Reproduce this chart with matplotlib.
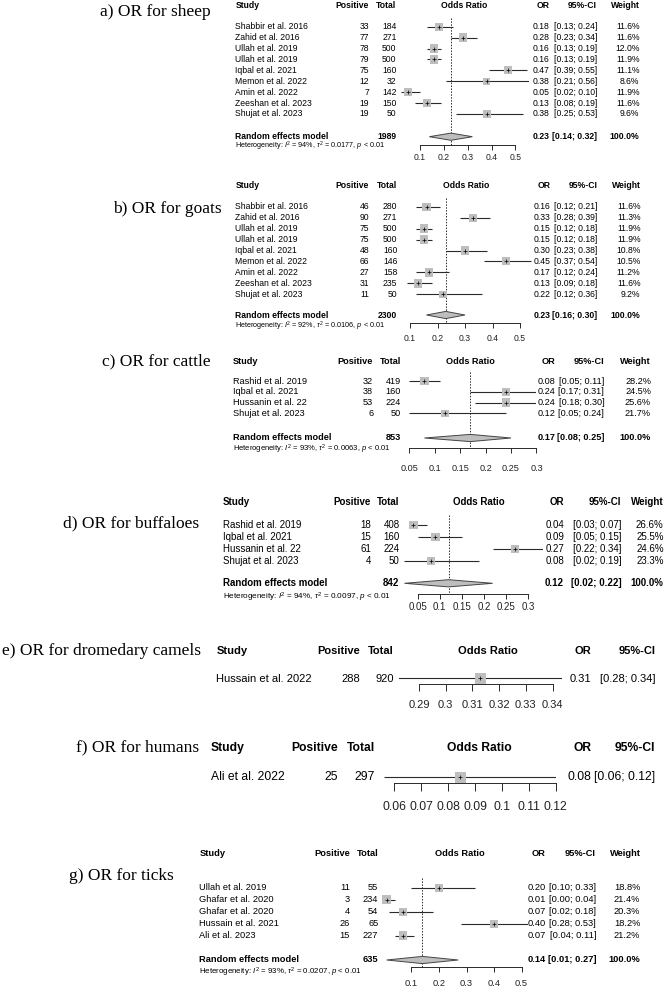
import matplotlib
matplotlib.use("Agg")
import matplotlib.pyplot as plt
from matplotlib.patches import Polygon

plt.rcParams['font.family'] = ['Liberation Sans', 'DejaVu Sans']
plt.rcParams['mathtext.fontset'] = 'custom'
plt.rcParams['mathtext.rm'] = 'Liberation Sans'
plt.rcParams['mathtext.it'] = 'Liberation Sans:italic'
plt.rcParams['mathtext.bf'] = 'Liberation Sans:bold'

# ---------------- data ----------------
# a) sheep
sheep_studies = ["Shabbir et al. 2016", "Zahid et al. 2016", "Ullah et al. 2019", "Ullah et al. 2019",
                 "Iqbal et al. 2021", "Memon et al. 2022", "Amin et al. 2022", "Zeeshan et al. 2023",
                 "Shujat et al. 2023"]
sheep_positive = [33, 77, 78, 79, 75, 12, 7, 19, 19]
sheep_total = [184, 271, 500, 500, 160, 32, 142, 150, 50]
sheep_or = [0.18, 0.28, 0.16, 0.16, 0.47, 0.38, 0.05, 0.13, 0.38]
sheep_lower = [0.13, 0.23, 0.13, 0.13, 0.39, 0.21, 0.02, 0.08, 0.25]
sheep_upper = [0.24, 0.34, 0.19, 0.19, 0.55, 0.56, 0.10, 0.19, 0.53]
sheep_weight = [11.6, 11.6, 12.0, 11.9, 11.1, 8.6, 11.9, 11.6, 9.6]
sheep_pooled = [0.23, 0.14, 0.32]
sheep_het = ["94%", "0.0177"]
sheep_ticks = [0.1, 0.2, 0.3, 0.4, 0.5]
sheep_ticklabels = ["0.1", "0.2", "0.3", "0.4", "0.5"]

# b) goats
goat_studies = ["Shabbir et al. 2016", "Zahid et al. 2016", "Ullah et al. 2019", "Ullah et al. 2019",
                "Iqbal et al. 2021", "Memon et al. 2022", "Amin et al. 2022", "Zeeshan et al. 2023",
                "Shujat et al. 2023"]
goat_positive = [46, 90, 75, 75, 48, 66, 27, 31, 11]
goat_total = [280, 271, 500, 500, 160, 146, 158, 235, 50]
goat_or = [0.16, 0.33, 0.15, 0.15, 0.30, 0.45, 0.17, 0.13, 0.22]
goat_lower = [0.12, 0.28, 0.12, 0.12, 0.23, 0.37, 0.12, 0.09, 0.12]
goat_upper = [0.21, 0.39, 0.18, 0.18, 0.38, 0.54, 0.24, 0.18, 0.36]
goat_weight = [11.6, 11.3, 11.9, 11.9, 10.8, 10.5, 11.2, 11.6, 9.2]
goat_pooled = [0.23, 0.16, 0.30]
goat_het = ["92%", "0.0106"]
goat_ticks = [0.1, 0.2, 0.3, 0.4, 0.5]
goat_ticklabels = ["0.1", "0.2", "0.3", "0.4", "0.5"]

# c) cattle
cattle_studies = ["Rashid et al. 2019", "Iqbal et al. 2021", "Hussanin et al. 22", "Shujat et al. 2023"]
cattle_positive = [32, 38, 53, 6]
cattle_total = [419, 160, 224, 50]
cattle_or = [0.08, 0.24, 0.24, 0.12]
cattle_lower = [0.05, 0.17, 0.18, 0.05]
cattle_upper = [0.11, 0.31, 0.30, 0.24]
cattle_weight = [28.2, 24.5, 25.6, 21.7]
cattle_pooled = [0.17, 0.08, 0.25]
cattle_het = ["93%", "0.0063"]
cattle_ticks = [0.05, 0.1, 0.15, 0.2, 0.25, 0.3]
cattle_ticklabels = ["0.05", "0.1", "0.15", "0.2", "0.25", "0.3"]

# d) buffaloes
buff_studies = ["Rashid et al. 2019", "Iqbal et al. 2021", "Hussanin et al. 22", "Shujat et al. 2023"]
buff_positive = [18, 15, 61, 4]
buff_total = [408, 160, 224, 50]
buff_or = [0.04, 0.09, 0.27, 0.08]
buff_lower = [0.03, 0.05, 0.22, 0.02]
buff_upper = [0.07, 0.15, 0.34, 0.19]
buff_weight = [26.6, 25.5, 24.6, 23.3]
buff_pooled = [0.12, 0.02, 0.22]
buff_het = ["94%", "0.0097"]
buff_ticks = [0.05, 0.1, 0.15, 0.2, 0.25, 0.3]
buff_ticklabels = ["0.05", "0.1", "0.15", "0.2", "0.25", "0.3"]

# e) dromedary camels
camel_studies = ["Hussain et al. 2022"]
camel_positive = [288]
camel_total = [920]
camel_or = [0.313]
camel_lower = [0.282]
camel_upper = [0.344]
camel_ticks = [0.29, 0.30, 0.31, 0.32, 0.33, 0.34]
camel_ticklabels = ["0.29", "0.3", "0.31", "0.32", "0.33", "0.34"]

# f) humans
human_studies = ["Ali et al. 2022"]
human_positive = [25]
human_total = [297]
human_or = [0.0845]
human_lower = [0.056]
human_upper = [0.121]
human_ticks = [0.06, 0.07, 0.08, 0.09, 0.10, 0.11, 0.12]
human_ticklabels = ["0.06", "0.07", "0.08", "0.09", "0.1", "0.11", "0.12"]

# g) ticks
tick_studies = ["Ullah et al. 2019", "Ghafar et al. 2020", "Ghafar et al. 2020", "Hussain et al. 2021",
                "Ali et al. 2023"]
tick_positive = [11, 3, 4, 26, 15]
tick_total = [55, 234, 54, 65, 227]
tick_or = [0.20, 0.01, 0.07, 0.40, 0.07]
tick_lower = [0.10, 0.00, 0.02, 0.28, 0.04]
tick_upper = [0.33, 0.04, 0.18, 0.53, 0.11]
tick_weight = [18.8, 21.4, 20.3, 18.2, 21.2]
tick_pooled = [0.14, 0.01, 0.27]
tick_het = ["93%", "0.0207"]
tick_ticks = [0.1, 0.2, 0.3, 0.4, 0.5]
tick_ticklabels = ["0.1", "0.2", "0.3", "0.4", "0.5"]

# ---------------- figure ----------------
W, H = 665, 990
fig = plt.figure(figsize=(6.65, 9.9), dpi=100)
bg = fig.add_axes([0, 0, 1, 1])
bg.set_xlim(0, W)
bg.set_ylim(H, 0)
bg.axis('off')

SQ = '#bebebe'
LN = '#2a2a2a'


def forest(title, L, studies, positive, total, est, lower, upper,
           weight, pooled, het, ticks, ticklabels):
    fs = L['fs']
    # title
    bg.text(L['title_x'], L['title_y'], title, ha='right', va='center',
            fontsize=12.5, family='Liberation Serif')
    # header
    hy = L['header_y']
    bg.text(L['study_x'], hy, "Study", fontsize=fs, weight='bold', va='center')
    bg.text(L['pos_r'], hy, "Positive", fontsize=fs, weight='bold', va='center', ha='right')
    bg.text(L['tot_r'], hy, "Total", fontsize=fs, weight='bold', va='center', ha='right')
    bg.text(L['or_c'], hy, "Odds Ratio", fontsize=fs, weight='bold', va='center', ha='center')
    bg.text(L['or_r'], hy, "OR", fontsize=fs, weight='bold', va='center', ha='right')
    bg.text(L['ci_r'], hy, "95%-CI", fontsize=fs, weight='bold', va='center', ha='right')
    if weight is not None:
        bg.text(L['w_r'], hy, "Weight", fontsize=fs, weight='bold', va='center', ha='right')

    rows = [L['first_y'] + i * L['dy'] for i in range(len(studies))]
    for i, y in enumerate(rows):
        bg.text(L['study_x'], y, studies[i], fontsize=fs, va='center')
        bg.text(L['pos_r'], y, str(positive[i]), fontsize=fs, va='center', ha='right')
        bg.text(L['tot_r'], y, str(total[i]), fontsize=fs, va='center', ha='right')
        bg.text(L['or_r'], y, f"{est[i]:.2f}", fontsize=fs, va='center', ha='right')
        bg.text(L['ci_r'], y, f"[{lower[i]:.2f}; {upper[i]:.2f}]", fontsize=fs, va='center', ha='right')
        if weight is not None:
            bg.text(L['w_r'], y, f"{weight[i]:.1f}%", fontsize=fs, va='center', ha='right')

    # axes for the graphical part, x in OR units, y in pixels
    def xpix(v):
        return L['px0'] + (v - L['v0']) * L['scale']
    lo, hi = L['xlim']
    top = L['first_y'] - 1.2 * L['dy']
    bottom = L['axis_y']
    left, right = xpix(lo), xpix(hi)
    ax = fig.add_axes([left / W, 1 - bottom / H, (right - left) / W, (bottom - top) / H])
    ax.set_xlim(lo, hi)
    ax.set_ylim(bottom, top)
    ax.patch.set_visible(False)
    for s in ['top', 'left', 'right']:
        ax.spines[s].set_visible(False)
    ax.spines['bottom'].set_bounds(ticks[0], ticks[-1])
    ax.spines['bottom'].set_linewidth(0.7)
    ax.spines['bottom'].set_color(LN)
    ax.set_yticks([])
    ax.set_xticks(ticks)
    ax.set_xticklabels(ticklabels, fontsize=fs)
    em = fs * 100 / 72
    pad = (L['label_y'] - bottom - L['tick_len'] - 0.55 * em) * 0.72
    ax.tick_params(axis='x', direction='out', length=L['tick_len'] * 0.72, width=0.7,
                   pad=pad, color=LN, labelcolor='#222222')

    ax.hlines(rows, lower, upper, color=LN, lw=0.8, zorder=2)
    if weight is not None:
        wmax = max(weight)
        sizes = [(L['sq'] * (w / wmax) ** 0.5 * 0.72) ** 2 for w in weight]
    else:
        sizes = [(L['sq'] * 0.72) ** 2 for _ in studies]
    ax.scatter(est, rows, marker='s', s=sizes, color=SQ, linewidths=0, zorder=3)
    ax.scatter(est, rows, marker='+', s=6, color='black', linewidths=0.5, zorder=4)

    if pooled is not None:
        sy = L['sum_y']
        pe, plo, phi = pooled
        h = L['dia_h']
        ax.add_patch(Polygon([(plo, sy), (pe, sy - h), (phi, sy), (pe, sy + h)], closed=True,
                             facecolor=SQ, edgecolor='#444444', lw=0.7, zorder=3))
        ax.vlines(pe, top + 0.4 * L['dy'], bottom, color=LN, lw=0.7, linestyles=(0, (1.5, 1.5)),
                  zorder=1)
        bg.text(L['study_x'], sy, "Random effects model", fontsize=fs, weight='bold', va='center')
        bg.text(L['tot_r'], sy, str(sum(total)), fontsize=fs, weight='bold', va='center', ha='right')
        bg.text(L['or_r'], sy, f"{pe:.2f}", fontsize=fs, weight='bold', va='center', ha='right')
        bg.text(L['ci_r'], sy, f"[{plo:.2f}; {phi:.2f}]", fontsize=fs, weight='bold',
                va='center', ha='right')
        bg.text(L['w_r'], sy, "100.0%", fontsize=fs, weight='bold', va='center', ha='right')
        bg.text(L['study_x'], L['het_y'],
                r"Heterogeneity: $I^2$ = " + het[0] + r", $\tau^2$ = " + het[1] + r", $p$ < 0.01",
                fontsize=fs * 0.84, va='center')


base = dict(tick_len=5, sq=8.5, dia_h=3.6)

lay_a = dict(base, title_x=210.8, title_y=12, fs=6.2, header_y=6, study_x=235.4, pos_r=369,
             tot_r=396.5, or_c=464.4, or_r=549.5, ci_r=597, w_r=639.5, first_y=26.7, dy=10.91,
             sum_y=136.7, het_y=146.7, axis_y=145, label_y=158, px0=419.8, v0=0.1, scale=239,
             xlim=(0.0, 0.555))
lay_b = dict(base, title_x=221.8, title_y=209, fs=6.2, header_y=185, study_x=235.4, pos_r=369,
             tot_r=397.4, or_c=466.5, or_r=550.5, ci_r=597.5, w_r=640.4, first_y=206.7, dy=10.95,
             sum_y=315, het_y=326.7, axis_y=323, label_y=338.3, px0=410, v0=0.1, scale=275,
             xlim=(0.05, 0.545))
lay_c = dict(base, title_x=210.8, title_y=361.7, fs=6.6, header_y=361, study_x=233.2, pos_r=373.2,
             tot_r=400.8, or_c=470.7, or_r=555.6, ci_r=604.3, w_r=651, first_y=381, dy=10.77,
             sum_y=438, het_y=449, axis_y=448, label_y=469, px0=409.2, v0=0.05, scale=509,
             xlim=(0.02, 0.30))
lay_d = dict(base, title_x=199.3, title_y=523, fs=7.0, header_y=501.7, study_x=222.6, pos_r=371,
             tot_r=399.5, or_c=479.2, or_r=564, ci_r=621.3, w_r=663.7, first_y=525, dy=11.9,
             sum_y=583.3, het_y=597.3, axis_y=594, label_y=607, px0=417.7, v0=0.05, scale=441,
             xlim=(0.01, 0.335))
lay_e = dict(base, title_x=201.4, title_y=650.7, fs=8.0, header_y=650.7, study_x=216.3, pos_r=360,
             tot_r=394, or_c=487.7, or_r=591.6, ci_r=655.2, first_y=678.5, dy=12,
             axis_y=684, label_y=706, px0=419, v0=0.29, scale=2672, xlim=(0.2825, 0.3435),
             tick_len=7, sq=11)
lay_f = dict(base, title_x=199.3, title_y=747.7, fs=8.7, header_y=747.7, study_x=210.8, pos_r=338.3,
             tot_r=375, or_c=479.2, or_r=591.6, ci_r=655.2, first_y=777, dy=12,
             axis_y=783.3, label_y=808, px0=394.4, v0=0.06, scale=2687, xlim=(0.0535, 0.1202),
             tick_len=8, sq=11)
lay_g = dict(base, title_x=173.9, title_y=876, fs=6.7, header_y=853.3, study_x=199.3, pos_r=350,
             tot_r=378.3, or_c=460.1, or_r=545.5, ci_r=596, w_r=640.4, first_y=887.7, dy=12,
             sum_y=960, het_y=972, axis_y=967, label_y=984, px0=411.4, v0=0.1, scale=275.5,
             xlim=(-0.01, 0.523))

forest("a) OR for sheep", lay_a, sheep_studies, sheep_positive, sheep_total, sheep_or, sheep_lower,
       sheep_upper, sheep_weight, sheep_pooled, sheep_het, sheep_ticks, sheep_ticklabels)
forest("b) OR for goats", lay_b, goat_studies, goat_positive, goat_total, goat_or, goat_lower,
       goat_upper, goat_weight, goat_pooled, goat_het, goat_ticks, goat_ticklabels)
forest("c) OR for cattle", lay_c, cattle_studies, cattle_positive, cattle_total, cattle_or,
       cattle_lower, cattle_upper, cattle_weight, cattle_pooled, cattle_het, cattle_ticks,
       cattle_ticklabels)
forest("d) OR for buffaloes", lay_d, buff_studies, buff_positive, buff_total, buff_or, buff_lower,
       buff_upper, buff_weight, buff_pooled, buff_het, buff_ticks, buff_ticklabels)
forest("e) OR for dromedary camels", lay_e, camel_studies, camel_positive, camel_total, camel_or,
       camel_lower, camel_upper, None, None, None, camel_ticks, camel_ticklabels)
forest("f) OR for humans", lay_f, human_studies, human_positive, human_total, human_or,
       human_lower, human_upper, None, None, None, human_ticks, human_ticklabels)
forest("g) OR for ticks", lay_g, tick_studies, tick_positive, tick_total, tick_or, tick_lower,
       tick_upper, tick_weight, tick_pooled, tick_het, tick_ticks, tick_ticklabels)

fig.savefig("out.png", dpi=100, facecolor='white')
